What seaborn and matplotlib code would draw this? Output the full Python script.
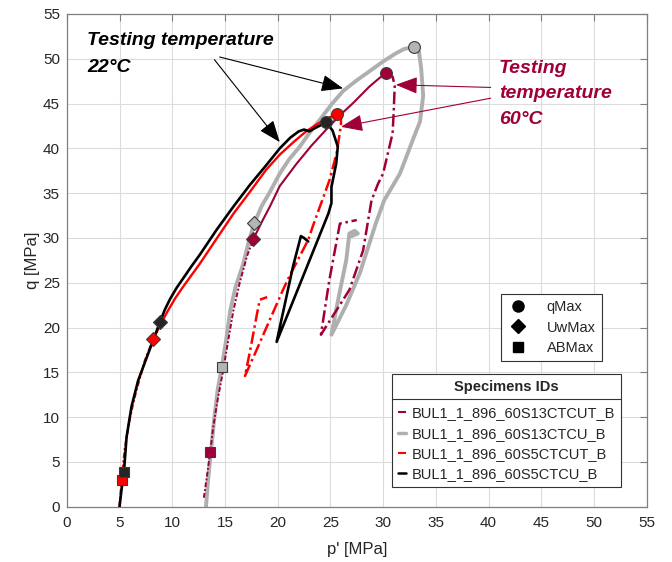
import numpy as np
import pandas as pd
import matplotlib
matplotlib.use("Agg")
import matplotlib.pyplot as plt
import seaborn as sns
from matplotlib.lines import Line2D

# ---------------- data ----------------
specimens = ["BUL1_1_896_60S13CTCUT_B", "BUL1_1_896_60S13CTCU_B",
             "BUL1_1_896_60S5CTCUT_B", "BUL1_1_896_60S5CTCU_B"]

# 60S13CTCU_B (grey, 22°C)
gray_p = [13.2, 13.4, 13.7, 14.0, 14.3, 14.7, 15.1, 15.5, 16.0, 16.7, 17.3, 17.8, 18.5, 19.2,
          20.2, 21.1, 22.1, 23.0, 24.0, 25.1, 26.2, 27.5, 28.7, 30.0, 31.2, 32.0, 32.9,
          33.4, 33.6, 33.8, 33.5, 32.8, 31.6, 30.1, 29.3, 27.8, 26.5, 25.1,
          25.8, 26.5, 26.8, 27.3, 27.6, 27.0]
gray_q = [0.0, 3.0, 6.5, 10.0, 13.0, 15.6, 18.5, 21.9, 24.5, 27.0, 29.8, 31.7, 33.6, 35.0,
          37.2, 38.8, 40.2, 41.7, 43.2, 44.9, 46.4, 47.6, 48.6, 49.7, 50.6, 51.1, 51.3,
          50.8, 49.0, 45.9, 43.0, 40.9, 37.2, 34.2, 31.6, 26.1, 22.5, 19.2,
          23.5, 27.5, 30.5, 30.8, 30.5, 30.2]

# 60S13CTCUT_B (dark red, 60°C): lower loading, upper loading, post-peak
dred_low_p = [13.0, 13.3, 13.6, 13.9, 14.3, 14.8, 15.3, 15.8, 16.4, 17.1, 17.7]
dred_low_q = [1.0, 3.5, 6.1, 9.0, 11.9, 15.0, 18.5, 21.9, 25.0, 28.0, 29.9]
dred_up_p = [17.7, 18.5, 19.3, 20.2, 21.8, 23.2, 24.6, 25.9, 27.1, 28.7, 29.7, 30.3]
dred_up_q = [29.9, 31.8, 33.6, 35.8, 38.3, 40.3, 42.1, 43.7, 45.0, 46.9, 47.9, 48.4]
dred_post_p = [30.3, 30.9, 31.1, 31.0, 30.9, 30.0, 29.5, 28.9, 28.1, 26.8, 24.1,
               24.9, 25.9, 26.3, 27.5]
dred_post_q = [48.4, 48.0, 47.0, 44.0, 41.7, 37.2, 36.0, 34.2, 28.6, 24.2, 19.2,
               25.3, 31.6, 31.7, 32.0]

# 60S5CTCUT_B (red, 60°C)
red_low_p = [5.0, 5.1, 5.2, 5.5, 6.0, 6.6, 7.4, 8.2]
red_low_q = [0.0, 1.5, 3.0, 6.5, 10.0, 13.0, 16.3, 18.7]
red_up_p = [8.2, 9.0, 9.6, 10.3, 11.0, 11.8, 12.6, 14.2, 15.8,
            17.4, 18.9, 20.2, 21.5, 22.7, 23.6, 24.6, 25.6]
red_up_q = [18.7, 20.6, 21.9, 23.3, 24.5, 25.8, 27.1, 29.9, 32.7,
            35.2, 37.6, 39.3, 40.7, 41.9, 42.6, 43.3, 43.8]
red_post_p = [25.6, 26.0, 26.0, 25.6, 24.9, 23.3, 22.9, 21.1, 20.5, 18.0, 16.9,
              17.4, 18.0, 18.3, 19.0]
red_post_q = [43.8, 43.3, 42.6, 39.5, 36.4, 31.2, 29.8, 25.7, 24.2, 17.5, 14.6,
              17.5, 21.3, 23.1, 23.4]

# 60S5CTCU_B (black, 22°C)
blk_p = [5.0, 5.2, 5.42, 5.67, 6.14, 6.77, 7.72, 8.83, 9.3, 9.8, 10.4, 11.1, 11.8, 12.6,
         14.2, 15.8, 17.35, 18.9, 20.2, 21.2, 22.0, 22.5, 23.0, 23.6, 24.6,
         25.2, 25.7, 25.55, 25.1, 25.1, 24.8, 22.3, 19.9, 21.45, 22.2, 22.5, 22.9]
blk_q = [0.0, 2.0, 3.9, 7.8, 11.2, 14.1, 17.1, 20.6, 22.0, 23.2, 24.4, 25.6, 26.8, 28.1,
         30.9, 33.5, 35.9, 38.1, 40.0, 41.2, 41.9, 42.1, 41.9, 42.3, 42.9,
         42.0, 40.2, 38.3, 35.7, 33.9, 32.7, 25.4, 18.4, 26.8, 30.2, 30.0, 29.6]

# key points: qMax, UwMax, ABMax per specimen (order of `specimens`)
qmax_p = [30.3, 32.9, 25.6, 24.6]
qmax_q = [48.4, 51.3, 43.8, 42.9]
uw_p = [17.7, 17.8, 8.2, 8.83]
uw_q = [29.9, 31.7, 18.7, 20.6]
ab_p = [13.6, 14.7, 5.2, 5.42]
ab_q = [6.1, 15.6, 3.0, 3.9]

x_ticks = list(range(0, 56, 5))
y_ticks = list(range(0, 56, 5))

# ---------------- style ----------------
sns.set_theme(style="white")
plt.rcParams["font.family"] = ["Liberation Sans", "DejaVu Sans"]

DRED = "#A0003A"
GREY = "#AFAFAF"
RED = "#FF0000"
BLK = "#000000"
DASHDOT = (0, (5, 1.5, 1, 1.5))
FINE = (0, (2.5, 1, 1, 1))

fig = plt.figure(figsize=(6.72, 5.62), dpi=100)
ax = fig.add_axes([0.0994, 0.0984, 0.8630, 0.8767])


def line(px, py, color, lw, ls="-", z=2):
    df = pd.DataFrame({"p": px, "q": py})
    sns.lineplot(data=df, x="p", y="q", sort=False, estimator=None, color=color,
                 lw=lw, ls=ls, ax=ax, zorder=z)


line(gray_p, gray_q, GREY, 2.8, z=2)
line(dred_low_p, dred_low_q, DRED, 1.4, ls=FINE, z=3)
line(dred_up_p, dred_up_q, DRED, 1.5, z=3)
line(dred_post_p, dred_post_q, DRED, 1.8, ls=DASHDOT, z=3)
line(red_low_p, red_low_q, RED, 1.6, ls=FINE, z=4)
line(red_up_p, red_up_q, RED, 1.7, z=4)
line(red_post_p, red_post_q, RED, 1.8, ls=DASHDOT, z=4)
line(blk_p, blk_q, BLK, 1.9, z=5)

face = [DRED, "#B4B4B4", RED, "#252525"]
for i in range(4):
    ax.plot(qmax_p[i], qmax_q[i], "o", ms=8.5, mfc=face[i], mec="#3a3a3a", mew=0.8, zorder=8)
    ax.plot(uw_p[i], uw_q[i], "D", ms=7, mfc=face[i], mec="#3a3a3a", mew=0.8, zorder=8)
    ax.plot(ab_p[i], ab_q[i], "s", ms=7.5, mfc=face[i], mec="#3a3a3a", mew=0.8, zorder=8)

ax.set_xlim(0, 55)
ax.set_ylim(0, 55)
ax.set_xticks(x_ticks)
ax.set_yticks(y_ticks)
ax.grid(True, color="#DCDCDC", lw=0.8)
ax.set_axisbelow(True)
for s in ax.spines.values():
    s.set_color("#7F7F7F")
    s.set_linewidth(0.9)
ax.tick_params(direction="in", top=True, right=True, length=5, width=0.8,
               color="#7F7F7F", labelsize=11, labelcolor="#262626")
ax.tick_params(axis="x", pad=7)
ax.tick_params(axis="y", pad=5)
ax.set_xlabel("p' [MPa]", fontsize=12, color="#262626", labelpad=8)
ax.set_ylabel("q [MPa]", fontsize=12, color="#262626", labelpad=2)

# annotations
ax.text(1.9, 53.0, "Testing temperature\n22°C", ha="left", va="top", fontsize=14,
        fontweight="bold", fontstyle="italic", color="black", linespacing=1.75, zorder=9)
ap_k = dict(arrowstyle="-|>,head_length=0.9,head_width=0.35", color="black", lw=0.8,
            shrinkA=0, shrinkB=0, mutation_scale=15)
ax.annotate("", xy=(26.2, 46.7), xytext=(14.5, 50.2), arrowprops=ap_k, zorder=9)
ax.annotate("", xy=(20.2, 40.7), xytext=(14.0, 49.9), arrowprops=ap_k, zorder=9)

ax.text(41.0, 49.9, "Testing\ntemperature\n60°C", ha="left", va="top", fontsize=14,
        fontweight="bold", fontstyle="italic", color=DRED, linespacing=1.65, zorder=9)
ap_r = dict(arrowstyle="-|>,head_length=0.9,head_width=0.35", color=DRED, lw=0.8,
            shrinkA=0, shrinkB=0, mutation_scale=15)
ax.annotate("", xy=(31.2, 47.1), xytext=(40.2, 46.8), arrowprops=ap_r, zorder=9)
ax.annotate("", xy=(26.0, 42.4), xytext=(40.2, 45.6), arrowprops=ap_r, zorder=9)

# legend 1: markers
mk = [Line2D([], [], ls="none", marker="o", ms=8, color="black"),
      Line2D([], [], ls="none", marker="D", ms=7, color="black"),
      Line2D([], [], ls="none", marker="s", ms=7, color="black")]
leg1 = ax.legend(mk, ["qMax", "UwMax", "ABMax"], loc="upper right",
                 bbox_to_anchor=(0.923, 0.432), fontsize=10.5, frameon=True,
                 fancybox=False, edgecolor="#333333", framealpha=1, handlelength=1.5,
                 handletextpad=1.2, borderpad=0.45, labelspacing=0.42, borderaxespad=0)
leg1.get_frame().set_linewidth(0.8)
ax.add_artist(leg1)

# legend 2: specimens
sh = [Line2D([], [], color=DRED, lw=1.5, ls="-."),
      Line2D([], [], color=GREY, lw=2.5),
      Line2D([], [], color=RED, lw=1.5, ls="-."),
      Line2D([], [], color=BLK, lw=1.8)]
leg2 = ax.legend(sh, specimens, loc="upper right", bbox_to_anchor=(0.955, 0.269),
                 fontsize=10.5, title="Specimens IDs",
                 title_fontproperties={"weight": "bold", "size": 10.5},
                 frameon=True, fancybox=False, edgecolor="#333333", framealpha=1,
                 handlelength=0.6, handletextpad=0.35, borderpad=0.4, labelspacing=0.42,
                 borderaxespad=0)
leg2.get_frame().set_linewidth(0.8)
leg2._legend_box.sep = 9

fig.canvas.draw()
r = fig.canvas.get_renderer()
fb = leg2.get_frame().get_window_extent(r)
tb = leg2.get_title().get_window_extent(r)
ysep = tb.y0 - 5
inv = fig.transFigure.inverted()
(x0, y0), (x1, _) = inv.transform([(fb.x0, ysep), (fb.x1, ysep)])
fig.add_artist(Line2D([x0, x1], [y0, y0], color="#333333", lw=0.8, zorder=20))

fig.savefig("out.png", dpi=100)
